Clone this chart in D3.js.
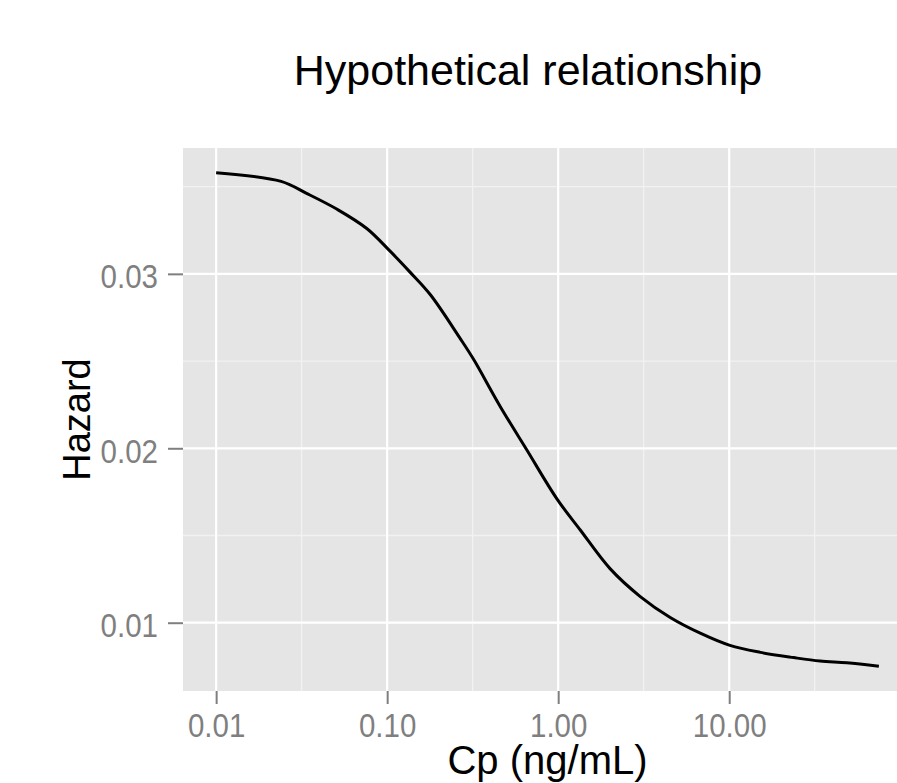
<!DOCTYPE html>
<html>
<head>
<meta charset="utf-8">
<script src="https://cdn.jsdelivr.net/npm/d3@7"></script>
<style>
  body { margin: 0; background: #fff; }
  svg { display: block; font-family: "Liberation Sans", Arial, sans-serif; }
</style>
</head>
<body>
<div id="chart"></div>
<script>
// values
const cp = [0.01, 0.024, 0.034, 0.051, 0.076, 0.104, 0.136, 0.179, 0.267, 0.32, 0.458, 0.656,
            0.983, 1.35, 2.01, 3.02, 4.52, 6.77, 10.1, 15.2, 23.8, 34.0, 48.7, 75];
const hazard = [0.0358, 0.0353, 0.0346, 0.0337, 0.0326, 0.0313, 0.0301, 0.0288, 0.0263, 0.0251, 0.0224, 0.0199,
                0.0171, 0.0153, 0.0131, 0.0115, 0.0103, 0.0094, 0.0087, 0.0083, 0.0080, 0.0078, 0.0077, 0.0075];

const xMajor = [0.01, 0.1, 1, 10];
const xLabels = ["0.01", "0.10", "1.00", "10.00"];
const xMinor = [0.0316, 0.316, 3.16, 31.6];
const yMajor = [0.01, 0.02, 0.03];
const yLabels = ["0.01", "0.02", "0.03"];
const yMinor = [0.015, 0.025, 0.035];

const width = 897, height = 783;
const margin = { top: 148, right: -15, bottom: 92, left: 183 };
const innerWidth = width - margin.left - margin.right;
const innerHeight = height - margin.top - margin.bottom;

const data = cp.map((c, i) => ({ cp: c, hazard: hazard[i] }));

// ggplot-style 5% expansion of the data range
const lx = d3.extent(cp).map(Math.log10);
const ex = (lx[1] - lx[0]) * 0.05;
const xScale = d3.scaleLog()
  .domain([Math.pow(10, lx[0] - ex), Math.pow(10, lx[1] + ex)])
  .range([0, innerWidth]);

const yr = d3.extent(hazard);
const ey = (yr[1] - yr[0]) * 0.05;
const yScale = d3.scaleLinear()
  .domain([yr[0] - ey, yr[1] + ey])
  .range([innerHeight, 0]);

const svg = d3.select("#chart")
  .append("svg")
  .attr("width", width)
  .attr("height", height);

const inner = svg.append("g")
  .attr("transform", `translate(${margin.left}, ${margin.top})`);

// panel background
inner.append("rect")
  .attr("width", innerWidth)
  .attr("height", innerHeight)
  .attr("fill", "#e5e5e5");

// minor grid
inner.selectAll(".vminor").data(xMinor).join("line")
  .attr("x1", d => xScale(d)).attr("x2", d => xScale(d))
  .attr("y1", 0).attr("y2", innerHeight)
  .attr("stroke", "#f2f2f2").attr("stroke-width", 1.3);
inner.selectAll(".hminor").data(yMinor).join("line")
  .attr("y1", d => yScale(d)).attr("y2", d => yScale(d))
  .attr("x1", 0).attr("x2", innerWidth)
  .attr("stroke", "#f2f2f2").attr("stroke-width", 1.3);

// major grid
inner.selectAll(".vmajor").data(xMajor).join("line")
  .attr("x1", d => xScale(d)).attr("x2", d => xScale(d))
  .attr("y1", 0).attr("y2", innerHeight)
  .attr("stroke", "#fff").attr("stroke-width", 2.2);
inner.selectAll(".hmajor").data(yMajor).join("line")
  .attr("y1", d => yScale(d)).attr("y2", d => yScale(d))
  .attr("x1", 0).attr("x2", innerWidth)
  .attr("stroke", "#fff").attr("stroke-width", 2.2);

// curve
const line = d3.line()
  .x(d => xScale(d.cp))
  .y(d => yScale(d.hazard))
  .curve(d3.curveCatmullRom.alpha(0.5));

inner.append("path")
  .datum(data)
  .attr("d", line)
  .attr("fill", "none")
  .attr("stroke", "#000")
  .attr("stroke-width", 3)
  .attr("stroke-linejoin", "round");

// axes
const bottomAxis = d3.axisBottom(xScale)
  .tickValues(xMajor)
  .tickFormat((d, i) => xLabels[i])
  .tickSize(13)
  .tickSizeOuter(0);
const gx = inner.append("g")
  .attr("transform", `translate(0, ${innerHeight})`)
  .call(bottomAxis);

const leftAxis = d3.axisLeft(yScale)
  .tickValues(yMajor)
  .tickFormat((d, i) => yLabels[i])
  .tickSize(15)
  .tickSizeOuter(0);
const gy = inner.append("g").call(leftAxis);

[gx, gy].forEach(g => {
  g.select(".domain").remove();
  g.selectAll(".tick line").attr("stroke", "#7f7f7f").attr("stroke-width", 2);
  g.selectAll(".tick text")
    .attr("fill", "#7f7f7f")
    .attr("x", 0).attr("y", 0).attr("dy", null)
    .style("font-size", "29.5px")
    .style("font-family", "'Liberation Sans', Arial, sans-serif");
});
// the reference glyphs are a little taller than wide
gx.selectAll(".tick text").attr("transform", "translate(0, 46) scale(1, 1.1)");
gy.selectAll(".tick text").attr("transform", "translate(-25, 14) scale(1, 1.1)");

// titles
svg.append("text")
  .text("Hypothetical relationship")
  .attr("x", 528)
  .attr("y", 85)
  .attr("text-anchor", "middle")
  .style("font-size", "43px")
  .attr("fill", "#000");

svg.append("text")
  .text("Cp (ng/mL)")
  .attr("x", margin.left + innerWidth / 2)
  .attr("y", 774)
  .attr("text-anchor", "middle")
  .style("font-size", "40px")
  .attr("fill", "#000");

svg.append("text")
  .text("Hazard")
  .attr("transform", `translate(90, ${margin.top + innerHeight / 2}) rotate(-90)`)
  .attr("text-anchor", "middle")
  .style("font-size", "38px")
  .attr("fill", "#000");
</script>
</body>
</html>
